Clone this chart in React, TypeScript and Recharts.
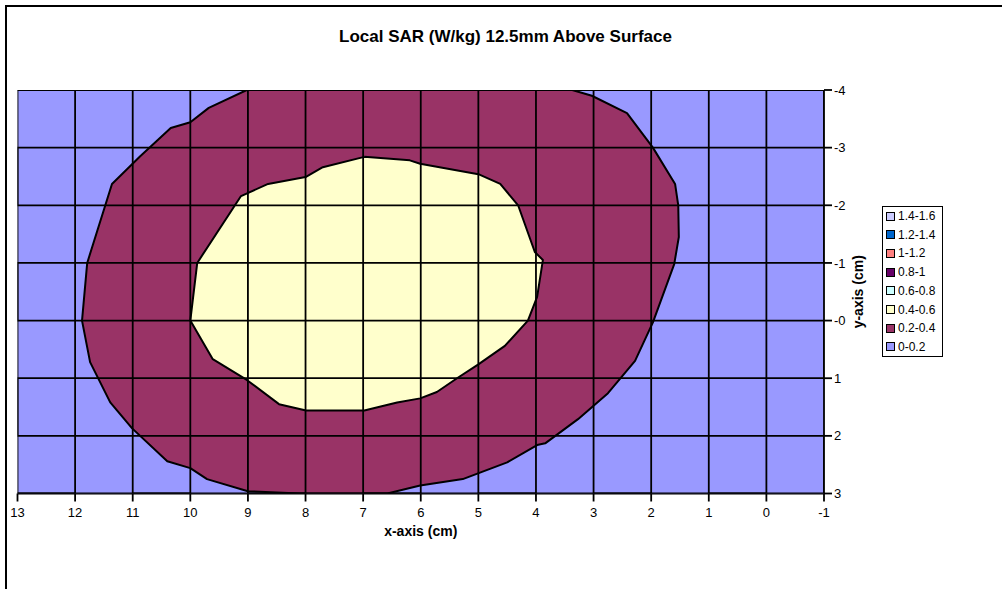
import React from 'react';
import { ScatterChart, Scatter, XAxis, YAxis, Label } from 'recharts';

const xTicks = [13, 12, 11, 10, 9, 8, 7, 6, 5, 4, 3, 2, 1, 0, -1];
const yTicks = [-4, -3, -2, -1, 0, 1, 2, 3];
const yTickLabels = ['-4', '-3', '-2', '-1', '-0', '1', '2', '3'];

// 0.2-0.4 W/kg contour (outer boundary)
const outerX = [9.02, 9.68, 10.0, 10.34, 10.87, 11.36, 11.79, 11.88, 11.74, 11.39, 11.01, 10.4, 10.0, 9.71, 9.0, 8.1, 6.58, 6.01, 5.27, 4.5, 3.98, 3.84, 3.27, 2.75, 2.28, 1.97, 1.6, 1.52, 1.53, 1.585, 1.97, 2.42, 3.03, 3.37];
const outerY = [-4, -3.69, -3.44, -3.34, -2.85, -2.37, -1.0, 0, 0.72, 1.42, 1.87, 2.44, 2.56, 2.75, 2.96, 3.0, 3.0, 2.86, 2.75, 2.46, 2.16, 2.13, 1.71, 1.26, 0.7, 0.03, -0.98, -1.45, -2.0, -2.37, -3.0, -3.6, -3.9, -4];

// 0.4-0.6 W/kg contour (inner boundary)
const innerX = [6.98, 6.19, 6.01, 5.0, 4.62, 4.31, 4.02, 3.88, 3.98, 4.14, 4.54, 5.0, 5.37, 5.72, 6.01, 6.41, 6.98, 7.99, 8.46, 9.02, 9.61, 10.0, 9.88, 9.12, 8.65, 8.0, 7.7];
const innerY = [-2.84, -2.78, -2.72, -2.54, -2.37, -2.0, -1.19, -1.05, -0.41, 0, 0.44, 0.76, 1.0, 1.24, 1.35, 1.42, 1.56, 1.56, 1.45, 1.03, 0.67, 0, -1.0, -2.16, -2.37, -2.49, -2.66];

const legendLabels = ['1.4-1.6', '1.2-1.4', '1-1.2', '0.8-1', '0.6-0.8', '0.4-0.6', '0.2-0.4', '0-0.2'];
const legendColors = ['#CCCCFF', '#0066CC', '#FF8080', '#660066', '#CCFFFF', '#FFFFCC', '#993366', '#9999FF'];

const X_MIN = -1;
const X_MAX = 13;
const Y_MIN = -4;
const Y_MAX = 3;

const closed = (xs: number[], ys: number[]) => {
  const pts = xs.map((x, i) => ({ x, y: ys[i] }));
  pts.push({ x: xs[0], y: ys[0] });
  return pts;
};

const outerData = closed(outerX, outerY);
const innerData = closed(innerX, innerY);
const bgData = closed([X_MAX, X_MIN, X_MIN, X_MAX], [Y_MIN, Y_MIN, Y_MAX, Y_MAX]);

// grid lines drawn above the filled contours (zig-zag along the plot border)
const vGridData = xTicks.flatMap((x, i) =>
  i % 2 === 0 ? [{ x, y: Y_MIN }, { x, y: Y_MAX }] : [{ x, y: Y_MAX }, { x, y: Y_MIN }]
);
const hGridData = yTicks.flatMap((y, i) =>
  i % 2 === 0 ? [{ x: X_MAX, y }, { x: X_MIN, y }] : [{ x: X_MIN, y }, { x: X_MAX, y }]
);

const EmptyShape = () => <g />;

const FONT = 'Arial, "Liberation Sans", sans-serif';

export default function App() {
  return (
    <div style={{ position: 'absolute', left: 0, top: 0, width: 1002, height: 589, background: '#fff', overflow: 'hidden', fontFamily: FONT }}>
      <div style={{ position: 'absolute', left: 5, top: 5, width: 1010, height: 600, borderTop: '2px solid #000', borderLeft: '2px solid #000' }} />
      <div style={{ position: 'absolute', left: 0, width: 1011, top: 26, textAlign: 'center', fontWeight: 'bold', fontSize: 17, lineHeight: '22px', color: '#000' }}>
        Local SAR (W/kg) 12.5mm Above Surface
      </div>
      <div style={{ position: 'absolute', left: 0, top: 0 }}>
        <ScatterChart width={1002} height={589} margin={{ top: 90, left: 17.5, right: 110, bottom: 45.5 }}>
          <XAxis
            type="number"
            dataKey="x"
            domain={[X_MIN, X_MAX]}
            reversed
            ticks={xTicks}
            interval={0}
            allowDataOverflow
            height={50}
            tickSize={8}
            tickMargin={6}
            axisLine={{ stroke: '#000', strokeWidth: 1.8 }}
            tickLine={{ stroke: '#000', strokeWidth: 1.8 }}
            tick={{ fill: '#000', fontSize: 13, fontFamily: FONT }}
          >
            <Label value="x-axis (cm)" position="insideTop" offset={33} style={{ fontWeight: 'bold', fontSize: 14, fill: '#000', fontFamily: FONT }} />
          </XAxis>
          <YAxis
            type="number"
            dataKey="y"
            orientation="right"
            domain={[Y_MIN, Y_MAX]}
            reversed
            ticks={yTicks}
            interval={0}
            allowDataOverflow
            width={68}
            tickSize={8}
            tickMargin={2}
            tickFormatter={(v: number) => yTickLabels[yTicks.indexOf(v)] ?? String(v)}
            axisLine={{ stroke: '#000', strokeWidth: 1.8 }}
            tickLine={{ stroke: '#000', strokeWidth: 1.8 }}
            tick={{ fill: '#000', fontSize: 13, fontFamily: FONT, textAnchor: 'start' }}
          >
            <Label value="y-axis (cm)" angle={-90} position="center" style={{ fontWeight: 'bold', fontSize: 14, fill: '#000', fontFamily: FONT }} />
          </YAxis>
          <Scatter data={bgData} shape={EmptyShape} line={{ stroke: 'none', fill: '#9999FF' }} isAnimationActive={false} legendType="none" />
          <Scatter data={outerData} shape={EmptyShape} line={{ stroke: '#000', strokeWidth: 2, fill: '#993366', strokeLinejoin: 'round' }} isAnimationActive={false} legendType="none" />
          <Scatter data={innerData} shape={EmptyShape} line={{ stroke: '#000', strokeWidth: 2, fill: '#FFFFCC', strokeLinejoin: 'round' }} isAnimationActive={false} legendType="none" />
          <Scatter data={vGridData} shape={EmptyShape} line={{ stroke: '#000', strokeWidth: 1.8, fill: 'none' }} isAnimationActive={false} legendType="none" />
          <Scatter data={hGridData} shape={EmptyShape} line={{ stroke: '#000', strokeWidth: 1.8, fill: 'none' }} isAnimationActive={false} legendType="none" />
        </ScatterChart>
      </div>
      <div style={{ position: 'absolute', left: 882, top: 206, width: 59, height: 149, border: '1.5px solid #000', background: '#fff', boxSizing: 'content-box' }}>
        {legendLabels.map((lab, i) => (
          <div key={lab} style={{ position: 'absolute', left: 3, top: 1 + i * 18.7, height: 16, display: 'flex', alignItems: 'center', fontSize: 12, color: '#000', whiteSpace: 'nowrap' }}>
            <span style={{ display: 'inline-block', width: 7, height: 7, background: legendColors[i], border: '1px solid #000', marginRight: 3 }} />
            {lab}
          </div>
        ))}
      </div>
    </div>
  );
}
